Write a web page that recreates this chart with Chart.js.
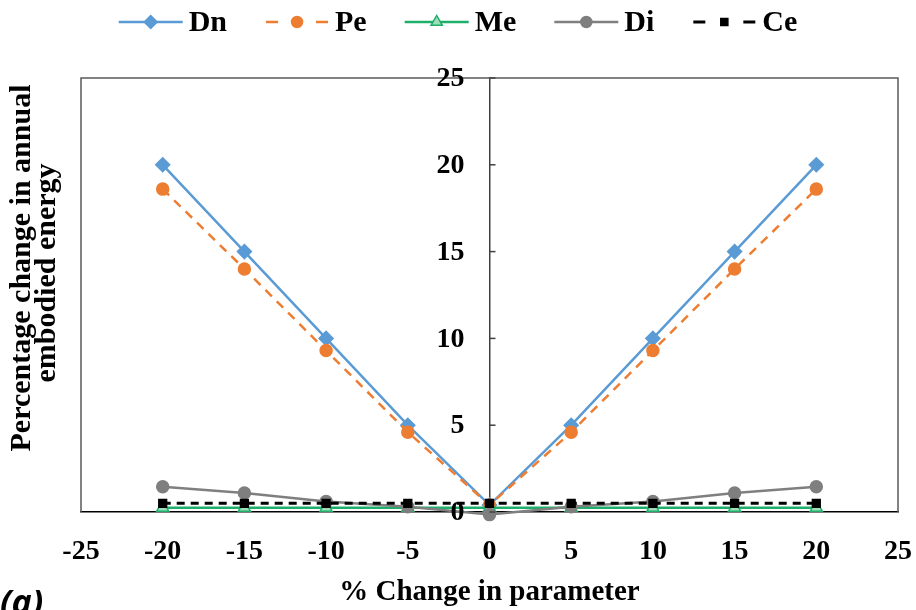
<!DOCTYPE html>
<html>
<head>
<meta charset="utf-8">
<script src="https://cdn.jsdelivr.net/npm/chart.js@4.4.1/dist/chart.umd.min.js"></script>
<style>
	html, body { margin: 0; padding: 0; background: #fff; }
	#wrap { width: 916px; height: 610px; }
</style>
</head>
<body>
<div id="wrap"><canvas id="chart" width="916" height="610"></canvas></div>
<script>
// values
const changes = [-20, -15, -10, -5, 0, 5, 10, 15, 20];
const dnValues = [20, 15, 10, 5, 0.4, 5, 10, 15, 20];
const peValues = [18.6, 14, 9.3, 4.6, 0.4, 4.6, 9.3, 14, 18.6];
const meValues = [0.25, 0.25, 0.25, 0.25, 0.25, 0.25, 0.25, 0.25, 0.25];
const diValues = [1.45, 1.1, 0.6, 0.3, -0.15, 0.3, 0.6, 1.1, 1.45];
const ceValues = [0.5, 0.5, 0.5, 0.5, 0.5, 0.5, 0.5, 0.5, 0.5];

const xRange = [-25, 25];
const yRange = [0, 25];
const tickStep = 5;

const xTitle = '% Change in parameter';
const yTitle = ['Percentage change in annual', 'embodied energy'];
const panelLabel = '(a)';

const serif = '"Liberation Serif", "Times New Roman", serif';

function points(values)
{
	return changes.map((x, i) => ({x: x, y: values[i]}));
}

const datasets = [
	{label: 'Dn', data: points(dnValues), borderColor: '#5B9BD5', backgroundColor: '#5B9BD5',
		pointStyle: 'rectRot', pointRadius: 7, borderWidth: 2.5, borderDash: []},
	{label: 'Pe', data: points(peValues), borderColor: '#ED7D31', backgroundColor: '#ED7D31',
		pointStyle: 'circle', pointRadius: 6, borderWidth: 2.5, borderDash: [9, 7]},
	{label: 'Me', data: points(meValues), borderColor: '#1FAF6A', backgroundColor: '#9FDDBA',
		pointStyle: 'triangle', pointRadius: 7, borderWidth: 2.5, borderDash: []},
	{label: 'Di', data: points(diValues), borderColor: '#7F7F7F', backgroundColor: '#7F7F7F',
		pointStyle: 'circle', pointRadius: 6, borderWidth: 2.5, borderDash: []},
	{label: 'Ce', data: points(ceValues), borderColor: '#000000', backgroundColor: '#000000',
		pointStyle: 'rect', pointRadius: 5.5, borderWidth: 3, borderDash: [8, 6]},
];

// excel draws later series on top
datasets.forEach((ds, i) => {
	ds.order = datasets.length - i;
	ds.clip = false;
	ds.tension = 0;
	ds.fill = false;
	ds.pointBorderWidth = 1.5;
});

const decor = {
	id: 'decor',
	afterDraw(chart)
	{
		const {ctx, chartArea: area, scales} = chart;
		const x0 = scales.x.getPixelForValue(0);

		ctx.save();

		// plot box
		ctx.strokeStyle = '#595959';
		ctx.lineWidth = 1.5;
		ctx.beginPath();
		ctx.moveTo(area.left, area.bottom);
		ctx.lineTo(area.left, area.top);
		ctx.lineTo(area.right, area.top);
		ctx.lineTo(area.right, area.bottom);
		ctx.stroke();

		// y ticks sit on the axis through x = 0
		ctx.strokeStyle = '#404040';
		ctx.fillStyle = '#000';
		ctx.font = 'bold 28px ' + serif;
		ctx.textAlign = 'right';
		ctx.textBaseline = 'middle';
		scales.y.ticks.forEach(t => {
			const y = scales.y.getPixelForValue(t.value);
			ctx.beginPath();
			ctx.moveTo(x0, y);
			ctx.lineTo(x0 + 6, y);
			ctx.stroke();
			ctx.fillText(String(t.value), x0 - 25, y + 1);
		});

		// y title
		ctx.font = 'bold 30px ' + serif;
		ctx.textAlign = 'center';
		[[22, 268], [47, 273]].forEach((p, i) => {
			ctx.save();
			ctx.translate(p[0], p[1]);
			ctx.rotate(-Math.PI / 2);
			ctx.fillText(yTitle[i], 0, 0);
			ctx.restore();
		});

		// legend: line sample with marker, then name
		const sampleW = 64;
		const gap = 6;
		const itemGap = 38;
		ctx.font = 'bold 30px ' + serif;
		const widths = datasets.map(ds => sampleW + gap + ctx.measureText(ds.label).width);
		const total = widths.reduce((a, b) => a + b, 0) + itemGap * (datasets.length - 1);
		let lx = (chart.width - total) / 2;
		const ly = 22;
		datasets.forEach((ds, i) => {
			ctx.strokeStyle = ds.borderColor;
			ctx.lineWidth = ds.borderWidth;
			ctx.beginPath();
			if (ds.borderDash.length)
			{
				ctx.moveTo(lx + 1, ly);
				ctx.lineTo(lx + 13, ly);
				ctx.moveTo(lx + sampleW - 13, ly);
				ctx.lineTo(lx + sampleW - 1, ly);
			}
			else
			{
				ctx.moveTo(lx, ly);
				ctx.lineTo(lx + sampleW, ly);
			}
			ctx.stroke();
			ctx.fillStyle = ds.backgroundColor;
			ctx.lineWidth = 1.5;
			Chart.helpers.drawPoint(ctx, {pointStyle: ds.pointStyle, radius: ds.pointRadius - 0.5, rotation: 0, borderWidth: 1.5},
				lx + sampleW / 2, ly);
			ctx.fillStyle = '#000';
			ctx.textAlign = 'left';
			ctx.textBaseline = 'middle';
			ctx.fillText(ds.label, lx + sampleW + gap, ly + 1);
			lx += widths[i] + itemGap;
		});

		// panel tag
		ctx.font = 'italic bold 34px "Open Sans", sans-serif';
		ctx.textAlign = 'left';
		ctx.textBaseline = 'alphabetic';
		ctx.fillText(panelLabel, 0, 614);

		ctx.restore();
	}
};

new Chart(document.getElementById('chart'), {
	type: 'line',
	data: {datasets: datasets},
	options: {
		responsive: false,
		animation: false,
		devicePixelRatio: 1,
		layout: {padding: {left: 81, right: 18, top: 78, bottom: 0}},
		plugins: {
			legend: {display: false},
			tooltip: {enabled: false},
		},
		scales: {
			x: {
				type: 'linear',
				min: xRange[0],
				max: xRange[1],
				ticks: {stepSize: tickStep, color: '#000', padding: 23, font: {family: serif, size: 28, weight: 'bold'}},
				grid: {drawOnChartArea: false, drawTicks: false},
				border: {color: '#000', width: 1.5},
				title: {display: true, text: xTitle, color: '#000', padding: {top: 0, bottom: 0},
					font: {family: serif, size: 29, weight: 'bold'}},
				afterFit: (scale) => {
					scale.height = 98;
					scale.paddingLeft = 0;
					scale.paddingRight = 0;
				},
			},
			y: {
				type: 'linear',
				position: {x: 0},
				min: yRange[0],
				max: yRange[1],
				ticks: {stepSize: tickStep, display: false},
				grid: {drawOnChartArea: false, drawTicks: false},
				border: {color: '#404040', width: 1.5},
			},
		},
	},
	plugins: [decor],
});
</script>
</body>
</html>
